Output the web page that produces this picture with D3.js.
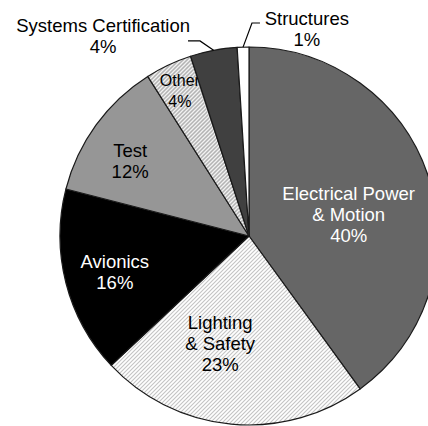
<!DOCTYPE html>
<html>
<head>
<meta charset="utf-8">
<script src="https://cdn.jsdelivr.net/npm/d3@7"></script>
<style>
  html, body { margin: 0; padding: 0; background: #fff; }
  svg { display: block; }
</style>
</head>
<body>
<div id="chart"></div>
<script>
// chart data
const categories = ["Electrical Power & Motion", "Lighting & Safety", "Avionics", "Test", "Other", "Systems Certification", "Structures"];
const shares = [40, 23, 16, 12, 4, 4, 1];
const labelLines = [
    ["Electrical Power", "& Motion"],
    ["Lighting", "& Safety"],
    ["Avionics"],
    ["Test"],
    ["Other"],
    ["Systems Certification"],
    ["Structures"]
];

const width = 428, height = 426;
const cx = 249, cy = 236, radius = 189;

// fills per slice (hatch ids refer to patterns below)
const fills = ["#666666", "url(#hatchLight)", "#000000", "#969696", "url(#hatchOther)", "#404040", "#ffffff"];
const textColors = ["#fff", "#000", "#fff", "#000", "#000", "#000", "#000"];
// label placement: [angle in deg clockwise from top, radius fraction, font size]
const labelPlace = [
    [77.6, 0.54, 18.5],
    [195, 0.59, 18.5],
    [255, 0.735, 18.5],
    [302.4, 0.745, 18.5],
    [334.5, 0.85, 16],
    [323.9, 1.31, 18.5],
    [15.6, 1.138, 18.5]
];
// leader lines for the outside labels: elbow [angle, radius frac], horizontal run in px
const leaders = {
    5: { elbow: [345.9, 1.064], run: -12 },
    6: { elbow: [0.8, 1.127], run: 8 }
};

const svg = d3.select("#chart").append("svg")
    .attr("width", width)
    .attr("height", height);

const defs = svg.append("defs");

const hl = defs.append("pattern")
    .attr("id", "hatchLight")
    .attr("patternUnits", "userSpaceOnUse")
    .attr("width", 4).attr("height", 4);
hl.append("rect").attr("width", 4).attr("height", 4).attr("fill", "#fff");
hl.append("path")
    .attr("d", "M-1,1 l2,-2 M0,4 l4,-4 M3,5 l2,-2")
    .attr("stroke", "#c4c4c4")
    .attr("stroke-width", 1.1);

const ho = defs.append("pattern")
    .attr("id", "hatchOther")
    .attr("patternUnits", "userSpaceOnUse")
    .attr("width", 4).attr("height", 4);
ho.append("rect").attr("width", 4).attr("height", 4).attr("fill", "#b4b4b4");
ho.append("path")
    .attr("d", "M-1,1 l2,-2 M0,4 l4,-4 M3,5 l2,-2")
    .attr("stroke", "#f2f2f2")
    .attr("stroke-width", 1.3);

const pie = d3.pie().sort(null).value(d => d)(shares);
const arc = d3.arc().innerRadius(0).outerRadius(radius);

const g = svg.append("g").attr("transform", `translate(${cx},${cy})`);

g.selectAll("path.slice")
    .data(pie)
    .enter().append("path")
    .attr("class", "slice")
    .attr("d", arc)
    .attr("fill", (d, i) => fills[i])
    .attr("stroke", "#1a1a1a")
    .attr("stroke-width", 1.2)
    .attr("stroke-linejoin", "round");

// clip for the "Other" label so it stays inside its slice like the original
defs.append("clipPath").attr("id", "clipOther")
    .append("path")
    .attr("d", arc(pie[4]));

function polar(angleDeg, frac) {
    const a = angleDeg * Math.PI / 180;
    return [Math.sin(a) * radius * frac, -Math.cos(a) * radius * frac];
}

// leader lines
Object.keys(leaders).forEach(k => {
    const i = +k, d = pie[i];
    const mid = (d.startAngle + d.endAngle) / 2;
    const start = [Math.sin(mid) * radius, -Math.cos(mid) * radius];
    const elbow = polar(leaders[k].elbow[0], leaders[k].elbow[1]);
    const end = [elbow[0] + leaders[k].run, elbow[1]];
    g.append("path")
        .attr("d", d3.line()([start, elbow, end]))
        .attr("fill", "none")
        .attr("stroke", "#000")
        .attr("stroke-width", 1.2);
});

// labels
const labels = g.selectAll("text.lbl")
    .data(pie)
    .enter().append("text")
    .attr("class", "lbl")
    .attr("font-family", "'Liberation Sans', Arial, sans-serif")
    .attr("font-size", (d, i) => labelPlace[i][2])
    .attr("text-anchor", "middle")
    .attr("fill", (d, i) => textColors[i])
    .attr("clip-path", (d, i) => i === 4 ? "url(#clipOther)" : null)
    .each(function (d, i) {
        const lines = labelLines[i].concat([shares[i] + "%"]);
        const p = polar(labelPlace[i][0], labelPlace[i][1]);
        const lh = 21;
        const fs = labelPlace[i][2];
        const y0 = p[1] - (lines.length - 1) * lh / 2 + fs * 0.36;
        const t = d3.select(this);
        lines.forEach((ln, j) => {
            t.append("tspan")
                .attr("x", p[0])
                .attr("y", y0 + j * lh)
                .text(ln);
        });
    });
</script>
</body>
</html>
